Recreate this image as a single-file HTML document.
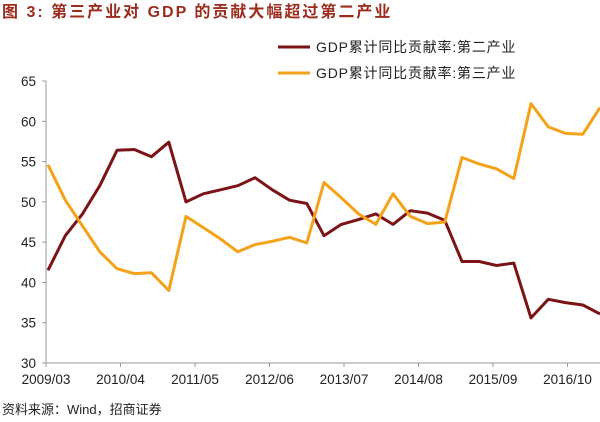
<!DOCTYPE html>
<html><head><meta charset="utf-8"><style>
body{margin:0;background:#fff;width:600px;height:422px;overflow:hidden}
svg{display:block}
text{font-family:"Liberation Sans","Noto Sans CJK SC",sans-serif}
</style></head><body>
<svg id="s" width="600" height="422" xmlns="http://www.w3.org/2000/svg">
<text x="2" y="17" font-size="16" font-weight="bold" fill="#9B2C1E" letter-spacing="2" font-family="'Liberation Sans','Noto Serif CJK SC',serif">图 3: 第三产业对 GDP  的贡献大幅超过第二产业</text>
<line x1="278" y1="47" x2="310" y2="47" stroke="#7B1416" stroke-width="3"/>
<text x="316" y="52" font-size="14" fill="#222" letter-spacing="0.8">GDP累计同比贡献率:第二产业</text>
<line x1="278" y1="73" x2="310" y2="73" stroke="#F5A21B" stroke-width="3"/>
<text x="316" y="78" font-size="14" fill="#222" letter-spacing="0.8">GDP累计同比贡献率:第三产业</text>
<g id="ax" stroke="#999" stroke-width="1" fill="none"></g>
<g id="lab" font-size="13.5" fill="#222"></g>
<polyline id="p2" fill="none" stroke="#7B1416" stroke-width="3" stroke-linejoin="round"/>
<polyline id="p3" fill="none" stroke="#F5A21B" stroke-width="3" stroke-linejoin="round"/>
<text x="2" y="414" font-size="13" fill="#222">资料来源：Wind，招商证券</text>
</svg>
<script>
var ns="http://www.w3.org/2000/svg";
function Y(v){return 363-(v-30)*8.057}
var ax=document.getElementById('ax'),lab=document.getElementById('lab');
function el(p,t,a,txt){var e=document.createElementNS(ns,t);for(var k in a)e.setAttribute(k,a[k]);if(txt)e.textContent=txt;p.appendChild(e);}
el(ax,'line',{x1:46,y1:Y(65),x2:46,y2:363});
el(ax,'line',{x1:46,y1:363,x2:600,y2:363});
for(var v=30;v<=65;v+=5){el(ax,'line',{x1:42,y1:Y(v),x2:46,y2:Y(v)});el(lab,'text',{x:36,y:Y(v)+5,'text-anchor':'end'},v);}
var xl=['2009/03','2010/04','2011/05','2012/06','2013/07','2014/08','2015/09','2016/10'];
for(var i=0;i<8;i++){var x=46+i*74.5;el(ax,'line',{x1:x,y1:363,x2:x,y2:367});el(lab,'text',{x:x,y:384,'text-anchor':'middle'},xl[i]);}
var a=[41.5,45.8,48.5,52,56.4,56.5,55.6,57.4,50,51,51.5,52,53,51.5,50.2,49.8,45.8,47.2,47.8,48.5,47.2,48.9,48.6,47.7,42.6,42.6,42.1,42.4,35.6,37.9,37.5,37.2,36.1];
var b=[54.6,50.2,47,43.8,41.7,41.1,41.2,39,48.2,46.8,45.4,43.8,44.7,45.1,45.6,44.9,52.4,50.5,48.5,47.2,51,48.2,47.3,47.5,55.5,54.7,54.1,52.9,62.2,59.3,58.5,58.4,61.7];
function pts(d){return d.map(function(v,i){return (48+i*17.25).toFixed(1)+','+Y(v).toFixed(1)}).join(' ')}
document.getElementById('p2').setAttribute('points',pts(a));
document.getElementById('p3').setAttribute('points',pts(b));
</script>
</body></html>
